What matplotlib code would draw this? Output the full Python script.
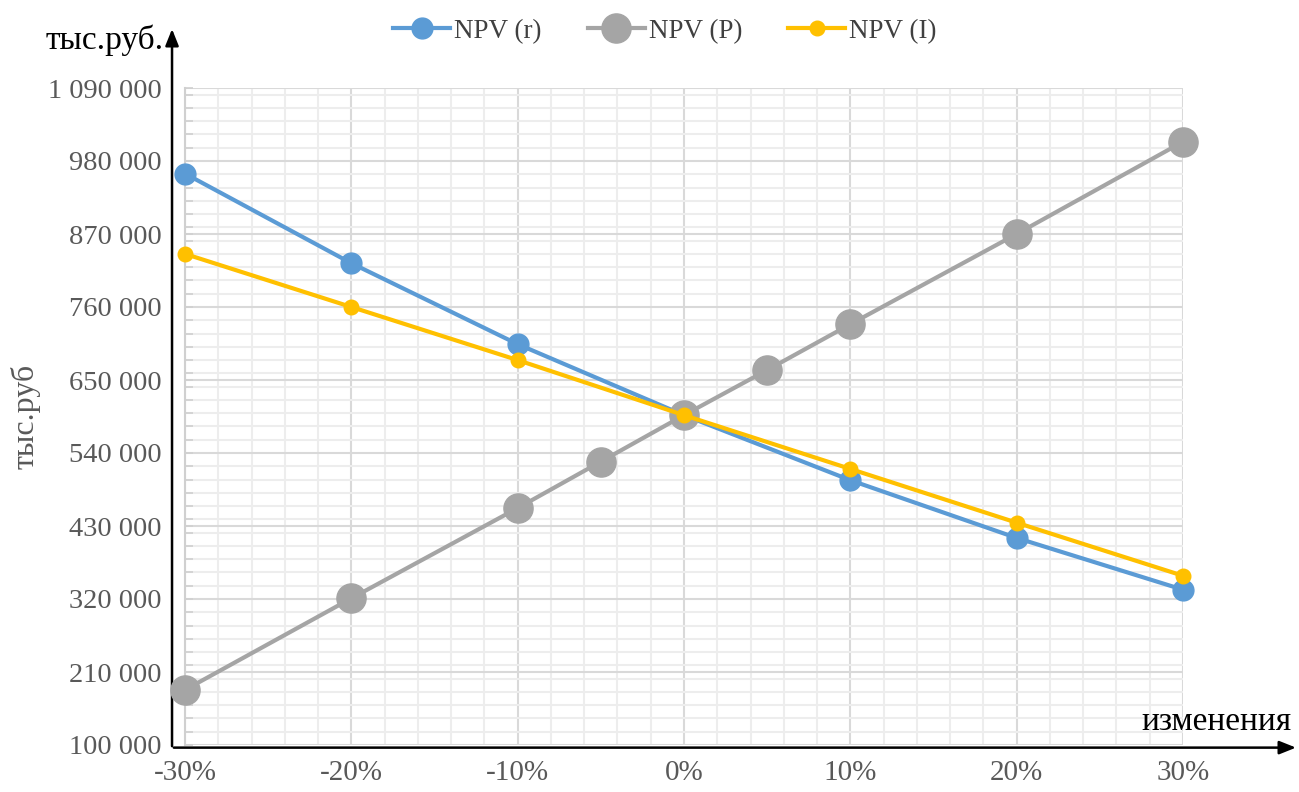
import matplotlib.pyplot as plt
from matplotlib.ticker import MultipleLocator, FuncFormatter, FixedLocator
import numpy as np

plt.rcParams['font.family'] = ['Liberation Serif', 'DejaVu Serif']

# изменение параметра, %
x_main = [-30, -20, -10, 0, 10, 20, 30]
x_price = [-30, -20, -10, -5, 0, 5, 10, 20, 30]

# NPV, тыс.руб.
npv_r = [961000, 826000, 704000, 597000, 499000, 412000, 334000]
npv_p = [183000, 321000, 457000, 527000, 597000, 665000, 734000, 870000, 1009000]
npv_i = [840000, 760000, 680000, 597000, 516000, 435000, 355000]

y_ticks = [100000, 210000, 320000, 430000, 540000, 650000, 760000, 870000, 980000, 1090000]

c_blue = '#5B9BD5'
c_gray = '#A5A5A5'
c_yellow = '#FFC000'
c_text = '#595959'

fig = plt.figure(figsize=(12.99, 7.92), dpi=100)
ax = fig.add_axes([185/1299, 1-745/792, 998/1299, 657/792])

ax.plot(x_main, npv_r, color=c_blue, lw=3, marker='o', ms=15, label='NPV (r)', zorder=3, clip_on=False)
ax.plot(x_price, npv_p, color=c_gray, lw=3, marker='o', ms=21, label='NPV (P)', zorder=4, clip_on=False)
ax.plot(x_main, npv_i, color=c_yellow, lw=3, marker='o', ms=10.5, label='NPV (I)', zorder=5, clip_on=False)

ax.set_xlim(-30, 30)
ax.set_ylim(100000, 1090000)

ax.xaxis.set_major_locator(MultipleLocator(10))
ax.xaxis.set_minor_locator(MultipleLocator(2))
ax.yaxis.set_major_locator(FixedLocator(y_ticks))
ax.yaxis.set_minor_locator(FixedLocator(np.arange(100000, 1090001, 20000)))
ax.xaxis.set_major_formatter(FuncFormatter(lambda v, p: f'{int(round(v))}%'))
ax.yaxis.set_major_formatter(FuncFormatter(lambda v, p: f'{int(v):,}'.replace(',', ' ')))

ax.grid(which='major', color='#D9D9D9', lw=1.5)
ax.grid(which='minor', color='#EDEDED', lw=1.5)
ax.set_axisbelow(True)

ax.tick_params(axis='y', which='both', direction='in', length=6, width=1.2,
               color='#D0D0D0', labelsize=20.5, labelcolor=c_text, pad=17)
ax.tick_params(axis='x', which='both', length=0, labelsize=21, labelcolor=c_text, pad=11)

for s in ['top', 'right', 'bottom']:
    ax.spines[s].set_visible(False)
ax.spines['left'].set_color('#D0D0D0')
ax.spines['left'].set_linewidth(1.5)

# стрелки осей
ax.annotate('', xy=(-0.013, 1.094), xytext=(-0.013, -0.006), xycoords='axes fraction',
            arrowprops=dict(arrowstyle='-|>,head_length=1.0,head_width=0.4', color='black', lw=1.8),
            annotation_clip=False)
ax.annotate('', xy=(1.116, -0.004), xytext=(-0.014, -0.004), xycoords='axes fraction',
            arrowprops=dict(arrowstyle='-|>,head_length=1.0,head_width=0.4', color='black', lw=1.8),
            annotation_clip=False)

ax.text(-0.081, 1.073, 'тыс.руб.', transform=ax.transAxes, fontsize=24,
        ha='center', va='center', color='black')
ax.text(1.034, 0.035, 'изменения', transform=ax.transAxes, fontsize=24,
        ha='center', va='center', color='black')

ax.set_ylabel('тыс.руб', fontsize=23, color=c_text)
ax.yaxis.set_label_coords(-0.145, 0.5)

fig.legend(loc='upper center', bbox_to_anchor=(0.512, 1.007), ncol=3, frameon=False,
           fontsize=19.5, handlelength=2.1, handletextpad=0.15, columnspacing=1.7,
           labelcolor='#404040')

fig.savefig('out.png', dpi=100)
